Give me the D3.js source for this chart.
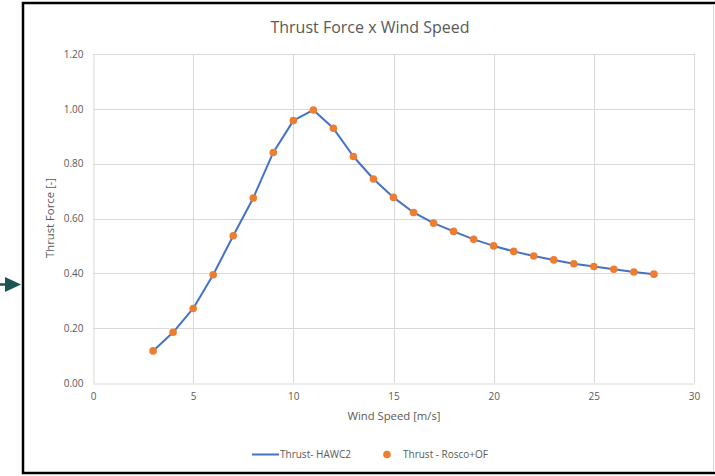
<!DOCTYPE html>
<html>
<head>
<meta charset="utf-8">
<script src="https://cdn.jsdelivr.net/npm/d3@7"></script>
<style>
  html, body { margin: 0; padding: 0; background: #fff; }
  svg { display: block; }
  text { font-family: "Open Sans", "Liberation Sans", sans-serif; fill: #595959; }
</style>
</head>
<body>
<svg id="chart" width="715" height="476"></svg>
<script>
// Wind speed [m/s]
const windSpeed = [3, 4, 5, 6, 7, 8, 9, 10, 11, 12, 13, 14, 15, 16, 17, 18, 19, 20, 21, 22, 23, 24, 25, 26, 27, 28];
// Normalised thrust, HAWC2 (line)
const thrustHawc2 = [0.117, 0.185, 0.272, 0.395, 0.537, 0.675, 0.841, 0.957, 0.996, 0.929, 0.826, 0.744, 0.677, 0.622, 0.583, 0.553, 0.524, 0.500, 0.480, 0.463, 0.449, 0.435, 0.425, 0.415, 0.405, 0.397];
// Normalised thrust, Rosco+OpenFAST (markers)
const thrustRosco = [0.117, 0.185, 0.272, 0.395, 0.537, 0.675, 0.841, 0.957, 0.996, 0.929, 0.826, 0.744, 0.677, 0.622, 0.583, 0.553, 0.524, 0.500, 0.480, 0.463, 0.449, 0.435, 0.425, 0.415, 0.405, 0.397];
const xTicks = [0, 5, 10, 15, 20, 25, 30];
const yTicks = [0, 0.2, 0.4, 0.6, 0.8, 1.0, 1.2];
const seriesNames = ["Thrust- HAWC2", "Thrust - Rosco+OF"];

const svg = d3.select("#chart");

// Frame around the chart area
svg.append("rect").attr("x", 23).attr("y", 3).attr("width", 700).attr("height", 470)
  .attr("fill", "#fff").attr("stroke", "#000").attr("stroke-width", 2.5);
svg.append("line").attr("x1", 713.5).attr("x2", 713.5).attr("y1", 4).attr("y2", 472)
  .attr("stroke", "#d9d9d9").attr("stroke-width", 1);

// Pointer arrow at the left edge
svg.append("line").attr("x1", 0).attr("x2", 8).attr("y1", 284.5).attr("y2", 284.5)
  .attr("stroke", "#1b5552").attr("stroke-width", 2.5);
svg.append("path").attr("d", "M5,277 L21,284.5 L5,292 Z").attr("fill", "#1b5552");

const x = d3.scaleLinear().domain([0, 30]).range([93, 694]);
const y = d3.scaleLinear().domain([0, 1.2]).range([383, 54]);

// Gridlines
svg.append("g").selectAll("line.h").data(yTicks.slice(1)).join("line")
  .attr("x1", x(0)).attr("x2", x(30))
  .attr("y1", d => Math.round(y(d)) + 0.5).attr("y2", d => Math.round(y(d)) + 0.5)
  .attr("stroke", "#d9d9d9").attr("stroke-width", 1);
svg.append("g").selectAll("line.v").data(xTicks.slice(1)).join("line")
  .attr("x1", d => Math.round(x(d)) + 0.5).attr("x2", d => Math.round(x(d)) + 0.5)
  .attr("y1", y(1.2)).attr("y2", y(0))
  .attr("stroke", "#d9d9d9").attr("stroke-width", 1);

// Axes
const xAxis = d3.axisBottom(x).tickValues(xTicks).tickSize(0).tickPadding(9).tickFormat(d3.format("d"));
const yAxis = d3.axisLeft(y).tickValues(yTicks).tickSize(0).tickPadding(10).tickFormat(d3.format(".2f"));
const gx = svg.append("g").attr("transform", `translate(0,${Math.round(y(0)) + 0.5})`).call(xAxis);
const gy = svg.append("g").attr("transform", `translate(${Math.round(x(0)) + 0.5},0)`).call(yAxis);
[gx, gy].forEach(g => {
  g.select(".domain").attr("stroke", "#d9d9d9").attr("stroke-width", 1);
  g.selectAll("text").attr("font-size", 10).attr("fill", "#595959")
    .style("font-family", '"Open Sans", sans-serif');
});

// Line series
const line = d3.line().x((d, i) => x(windSpeed[i])).y(d => y(d));
svg.append("path").datum(thrustHawc2).attr("d", line)
  .attr("fill", "none").attr("stroke", "#4472c4").attr("stroke-width", 2)
  .attr("stroke-linejoin", "round").attr("stroke-linecap", "round");

// Marker series
svg.append("g").selectAll("circle").data(thrustRosco).join("circle")
  .attr("cx", (d, i) => x(windSpeed[i])).attr("cy", d => y(d)).attr("r", 3.8)
  .attr("fill", "#ed7d31");

// Titles
svg.append("text").attr("x", 370).attr("y", 33).attr("text-anchor", "middle")
  .attr("font-size", 16).text("Thrust Force x Wind Speed");
svg.append("text").attr("x", 394).attr("y", 420).attr("text-anchor", "middle")
  .attr("font-size", 11.3).text("Wind Speed [m/s]");
svg.append("text").attr("transform", "translate(54,218) rotate(-90)").attr("text-anchor", "middle")
  .attr("font-size", 11.3).text("Thrust Force [-]");

// Legend
const lg = svg.append("g");
lg.append("line").attr("x1", 252).attr("x2", 279).attr("y1", 454.5).attr("y2", 454.5)
  .attr("stroke", "#4472c4").attr("stroke-width", 2);
lg.append("text").attr("x", 280).attr("y", 458).attr("font-size", 10).text(seriesNames[0]);
lg.append("circle").attr("cx", 387).attr("cy", 454.5).attr("r", 3.8).attr("fill", "#ed7d31");
lg.append("text").attr("x", 403).attr("y", 458).attr("font-size", 10).text(seriesNames[1]);
</script>
</body>
</html>
